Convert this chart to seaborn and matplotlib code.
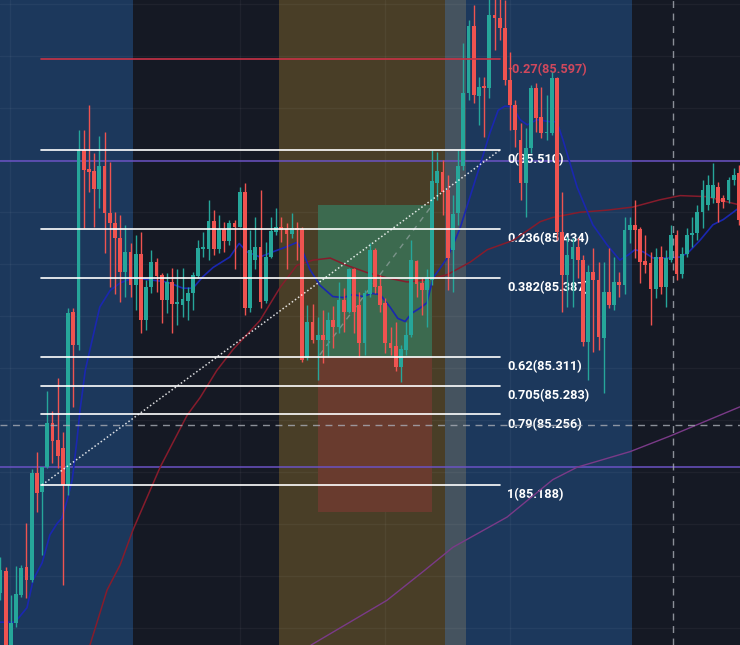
import matplotlib
matplotlib.use("Agg")
import matplotlib.pyplot as plt
import seaborn as sns
import numpy as np

# ---- candle data (one bar per slot) ----
opens = [
    85.084, 85.105, 85.029, 85.055, 85.082, 85.109, 85.097, 85.199, 85.181, 85.205,
    85.247, 85.231, 85.223, 85.188, 85.354, 85.322, 85.510, 85.492, 85.490, 85.472,
    85.494, 85.449, 85.440, 85.425, 85.393, 85.412, 85.380, 85.410, 85.346, 85.378,
    85.402, 85.390, 85.366, 85.383, 85.362, 85.361, 85.365, 85.372, 85.389, 85.415,
    85.415, 85.442, 85.415, 85.434, 85.422, 85.440, 85.436, 85.469, 85.358, 85.404,
    85.417, 85.365, 85.407, 85.431, 85.436, 85.434, 85.429, 85.435, 85.434, 85.310,
    85.345, 85.327, 85.332, 85.327, 85.346, 85.340, 85.366, 85.354, 85.395, 85.361,
    85.324, 85.371, 85.414, 85.379, 85.363, 85.324, 85.321, 85.301, 85.318, 85.332,
    85.403, 85.382, 85.375, 85.385, 85.478, 85.489, 85.471, 85.414, 85.449, 85.494,
    85.565, 85.629, 85.562, 85.571, 85.569, 85.640, 85.637, 85.627, 85.577, 85.553,
    85.519, 85.478, 85.512, 85.569, 85.542, 85.526, 85.526, 85.579, 85.431, 85.390,
    85.405, 85.417, 85.404, 85.325, 85.393, 85.385, 85.329, 85.373, 85.361, 85.383,
    85.380, 85.433, 85.438, 85.434, 85.403, 85.401, 85.376, 85.407, 85.378, 85.404,
    85.428, 85.391, 85.410, 85.428, 85.430, 85.450, 85.457, 85.464, 85.474, 85.464,
    85.462, 85.481, 85.488,
]
highs = [
    85.119, 85.109, 85.082, 85.110, 85.111, 85.151, 85.203, 85.220, 85.205, 85.278,
    85.259, 85.291, 85.239, 85.358, 85.358, 85.529, 85.529, 85.553, 85.507, 85.523,
    85.527, 85.498, 85.450, 85.447, 85.438, 85.420, 85.428, 85.431, 85.385, 85.414,
    85.406, 85.392, 85.392, 85.396, 85.395, 85.396, 85.378, 85.393, 85.423, 85.431,
    85.462, 85.452, 85.447, 85.441, 85.443, 85.443, 85.474, 85.478, 85.433, 85.445,
    85.471, 85.421, 85.445, 85.454, 85.445, 85.440, 85.449, 85.441, 85.436, 85.361,
    85.362, 85.349, 85.356, 85.354, 85.360, 85.383, 85.377, 85.396, 85.396, 85.373,
    85.375, 85.420, 85.416, 85.390, 85.368, 85.340, 85.345, 85.322, 85.345, 85.423,
    85.404, 85.388, 85.395, 85.510, 85.508, 85.500, 85.486, 85.467, 85.510, 85.613,
    85.635, 85.649, 85.580, 85.580, 85.659, 85.659, 85.659, 85.654, 85.604, 85.558,
    85.536, 85.531, 85.572, 85.574, 85.570, 85.563, 85.585, 85.580, 85.469, 85.426,
    85.425, 85.425, 85.409, 85.399, 85.416, 85.402, 85.402, 85.416, 85.407, 85.393,
    85.445, 85.445, 85.462, 85.436, 85.428, 85.412, 85.416, 85.418, 85.414, 85.438,
    85.433, 85.417, 85.435, 85.445, 85.457, 85.481, 85.486, 85.497, 85.479, 85.467,
    85.484, 85.493, 85.495,
]
lows = [
    85.077, 85.020, 85.020, 85.051, 85.080, 85.079, 85.095, 85.162, 85.121, 85.204,
    85.209, 85.204, 85.092, 85.178, 85.263, 85.318, 85.435, 85.469, 85.436, 85.454,
    85.411, 85.378, 85.371, 85.364, 85.369, 85.369, 85.356, 85.334, 85.337, 85.372,
    85.373, 85.344, 85.353, 85.334, 85.342, 85.349, 85.346, 85.356, 85.387, 85.407,
    85.404, 85.409, 85.411, 85.412, 85.419, 85.395, 85.436, 85.351, 85.354, 85.395,
    85.358, 85.363, 85.406, 85.428, 85.421, 85.395, 85.425, 85.404, 85.306, 85.308,
    85.324, 85.289, 85.305, 85.311, 85.320, 85.334, 85.335, 85.353, 85.334, 85.311,
    85.313, 85.369, 85.372, 85.354, 85.315, 85.313, 85.297, 85.287, 85.313, 85.330,
    85.369, 85.351, 85.340, 85.380, 85.462, 85.447, 85.375, 85.373, 85.438, 85.491,
    85.558, 85.555, 85.534, 85.522, 85.560, 85.606, 85.616, 85.572, 85.529, 85.513,
    85.462, 85.445, 85.507, 85.527, 85.521, 85.519, 85.524, 85.423, 85.354, 85.359,
    85.359, 85.387, 85.321, 85.289, 85.316, 85.318, 85.276, 85.358, 85.356, 85.369,
    85.371, 85.420, 85.406, 85.382, 85.392, 85.342, 85.368, 85.371, 85.359, 85.402,
    85.385, 85.387, 85.407, 85.417, 85.423, 85.435, 85.452, 85.459, 85.441, 85.454,
    85.459, 85.476, 85.438,
]
closes = [
    85.106, 85.029, 85.055, 85.083, 85.108, 85.097, 85.199, 85.180, 85.205, 85.247,
    85.230, 85.216, 85.188, 85.353, 85.322, 85.510, 85.491, 85.489, 85.472, 85.494,
    85.449, 85.440, 85.425, 85.393, 85.412, 85.380, 85.410, 85.346, 85.378, 85.402,
    85.389, 85.366, 85.383, 85.362, 85.364, 85.367, 85.372, 85.390, 85.416, 85.417,
    85.442, 85.415, 85.434, 85.422, 85.440, 85.436, 85.469, 85.358, 85.414, 85.417,
    85.364, 85.407, 85.432, 85.436, 85.433, 85.429, 85.435, 85.433, 85.308, 85.345,
    85.327, 85.332, 85.327, 85.346, 85.340, 85.366, 85.354, 85.395, 85.354, 85.324,
    85.372, 85.414, 85.378, 85.361, 85.324, 85.320, 85.301, 85.319, 85.332, 85.404,
    85.381, 85.375, 85.388, 85.480, 85.490, 85.469, 85.406, 85.448, 85.494, 85.565,
    85.629, 85.563, 85.570, 85.569, 85.640, 85.637, 85.627, 85.577, 85.553, 85.529,
    85.478, 85.512, 85.569, 85.541, 85.526, 85.527, 85.579, 85.431, 85.390, 85.409,
    85.417, 85.404, 85.325, 85.393, 85.385, 85.330, 85.373, 85.361, 85.383, 85.380,
    85.433, 85.438, 85.433, 85.402, 85.399, 85.376, 85.407, 85.378, 85.406, 85.428,
    85.391, 85.410, 85.428, 85.430, 85.450, 85.471, 85.476, 85.476, 85.459, 85.460,
    85.481, 85.486, 85.443,
]

# ---- moving averages, sampled along the drawn lines (bar position, price) ----
fast_ma_x = [-0.1, 2.8, 5.1, 6.3, 8.0, 9.5, 10.9, 11.8, 12.8, 13.8, 14.7, 15.3, 16.3, 17.2, 19.1,
             21.1, 23.0, 25.5, 28.8, 32.0, 35.1, 37.0, 38.9, 40.9, 44.1, 45.9, 47.4, 49.9, 52.4, 55.1,
             57.0, 58.0, 59.5, 61.4, 63.9, 65.9, 67.8, 69.7, 71.4, 73.0, 74.9, 76.4, 77.8, 79.1, 80.7,
             82.0, 83.2, 84.5, 85.9, 87.4, 88.4, 90.3, 92.2, 94.1, 95.7, 97.0, 98.6, 99.9, 101.3, 103.2,
             105.7, 107.0, 108.2, 110.9, 113.9, 116.6, 119.1, 120.7, 122.0, 123.6, 125.5, 128.2, 130.7,
             132.2, 134.5, 137.0, 139.0, 140.9, 142.2]
fast_ma_y = [85.056, 85.056, 85.070, 85.097, 85.113, 85.140, 85.151, 85.156, 85.173, 85.193,
             85.231, 85.260, 85.298, 85.318, 85.359, 85.375, 85.382, 85.387, 85.385, 85.383,
             85.377, 85.377, 85.388, 85.397, 85.407, 85.420, 85.412, 85.407, 85.412, 85.417,
             85.421, 85.414, 85.395, 85.380, 85.369, 85.368, 85.371, 85.369, 85.372, 85.371,
             85.359, 85.348, 85.345, 85.353, 85.358, 85.363, 85.387, 85.396, 85.406, 85.423,
             85.435, 85.465, 85.495, 85.526, 85.548, 85.552, 85.551, 85.539, 85.534, 85.539,
             85.537, 85.537, 85.519, 85.474, 85.438, 85.419, 85.404, 85.409, 85.414, 85.412,
             85.406, 85.406, 85.407, 85.411, 85.423, 85.438, 85.443, 85.450, 85.455]
mid_ma_x = [17.2, 20.5, 23.0, 25.5, 30.7, 35.9, 38.4, 41.6, 44.7, 49.9, 53.8, 57.0, 60.1, 63.4, 66.6,
            70.5, 74.3, 78.2, 82.0, 85.9, 90.3, 93.6, 98.6, 103.8, 106.2, 111.4, 116.6, 121.6, 126.8,
            130.7, 135.9, 139.7, 142.2]
mid_ma_y = [85.034, 85.087, 85.111, 85.145, 85.205, 85.255, 85.272, 85.298, 85.318, 85.346,
            85.378, 85.399, 85.404, 85.406, 85.399, 85.392, 85.387, 85.383, 85.385, 85.390,
            85.402, 85.414, 85.423, 85.441, 85.445, 85.450, 85.452, 85.455, 85.462, 85.466,
            85.465, 85.460, 85.457]
slow_ma_x = [59.7, 74.3, 81.6, 87.0, 97.4, 106.2, 110.9, 121.1, 128.8, 142.2]
slow_ma_y = [85.034, 85.077, 85.106, 85.128, 85.157, 85.193, 85.205, 85.220, 85.235, 85.263]

# ---- drawings ----
fib_labels = ["-0.27", "0", "0.236", "0.382", "0.62", "0.705", "0.79", "1"]
fib_prices = [85.597, 85.510, 85.434, 85.387, 85.311, 85.283, 85.256, 85.188]
fib_start, fib_end = 7.8, 96.1           # bars spanned by the fib tool
trend_bars = [8.0, 96.1]
trend_prices = [85.188, 85.510]

session_edges = [-1.0, 25.5, 53.5, 85.5, 89.5, 121.5, 143.0]
position_bars = [61.0, 83.0]
entry, target, stop = 85.311, 85.457, 85.162
path_bars = [61.4, 82.6]
path_prices = [85.313, 85.454]

h_lines = [85.499, 85.205]
cross_price, cross_bar = 85.246, 129.3
grid_bars = [1.8, 46.1, 74.0, 98.0]

# ---- style ----
BG = "#151924"
session_colors = ["#1c385c", BG, "#493e27", "#45535f", "#1c385c", BG]
UP, DOWN = "#26a69a", "#ef5350"

sns.set_theme(style="dark", rc={"axes.facecolor": BG, "figure.facecolor": BG})
plt.rcParams["font.family"] = ["Roboto", "DejaVu Sans"]

fig = plt.figure(figsize=(7.4, 6.45), dpi=100)
ax = fig.add_axes([0, 0, 1, 1])
ax.set_facecolor(BG)

for (a, b), col in zip(zip(session_edges[:-1], session_edges[1:]), session_colors):
    ax.axvspan(a, b, color=col, lw=0, zorder=0)

for p in np.arange(85.05, 85.66, 0.05):
    ax.axhline(p, color="white", alpha=0.045, lw=1, zorder=0.5)
for g in grid_bars:
    ax.axvline(g, color="white", alpha=0.045, lw=1, zorder=0.5)

# long position box
ax.fill_between(position_bars, entry, target, color="#3c6a4f", lw=0, zorder=1)
ax.fill_between(position_bars, stop, entry, color="#693b2e", lw=0, zorder=1)
ax.plot(path_bars, path_prices, color="#b8bcc4", alpha=0.5, lw=1, ls=(0, (4, 4)), zorder=1.2)

for p in h_lines:
    ax.axhline(p, color="#6a52c4", lw=1.1, zorder=2)

# fib labels sit under the candles
for lab, p in zip(fib_labels, fib_prices):
    col = "#d0485c" if lab.startswith("-") else "white"
    ax.annotate(f"{lab}({p:.3f})", (fib_end + 1.3, p), xytext=(0, -10),
                textcoords="offset pixels", color=col, fontsize=9.2,
                fontweight="bold", ha="left", va="center", zorder=2.5)

sns.lineplot(x=slow_ma_x, y=slow_ma_y, ax=ax, color="#7a3a88", lw=1.0, sort=False, zorder=3)
sns.lineplot(x=mid_ma_x, y=mid_ma_y, ax=ax, color="#861c2c", lw=1.1, sort=False, zorder=3)
sns.lineplot(x=fast_ma_x, y=fast_ma_y, ax=ax, color="#1a27b0", lw=1.2, sort=False, zorder=3)

# candles
idx = np.arange(len(closes))
o, h, l, c = map(np.array, (opens, highs, lows, closes))
cols = np.where(c >= o, UP, DOWN)
body = np.where(np.abs(c - o) < 0.0015, 0.0015, np.abs(c - o))
ax.vlines(idx, l, h, colors=cols, lw=1.0, zorder=4)
ax.bar(idx, body, bottom=np.minimum(o, c), width=0.74, color=cols, lw=0, zorder=4.1)

# fib lines and trend line above the candles
for lab, p in zip(fib_labels, fib_prices):
    col = "#c83246" if lab.startswith("-") else "white"
    ax.plot([fib_start, fib_end], [p, p], color=col, lw=1.2, zorder=5)
ax.plot(trend_bars, trend_prices, color="white", lw=1.1, ls=(0, (1, 1.5)), alpha=0.85, zorder=5)

# crosshair
ax.axhline(cross_price, color="#a9adb6", lw=1, ls=(0, (5, 4)), alpha=0.8, zorder=6)
ax.axvline(cross_bar, color="#a9adb6", lw=1, ls=(0, (5, 4)), alpha=0.8, zorder=6)

ax.set_xlim(-0.096, 142.21)
ax.set_ylim(85.0341, 85.654)
ax.set_xticks([])
ax.set_yticks([])
for s in ax.spines.values():
    s.set_visible(False)
ax.grid(False)

fig.savefig("out.png", dpi=100, facecolor=BG)
